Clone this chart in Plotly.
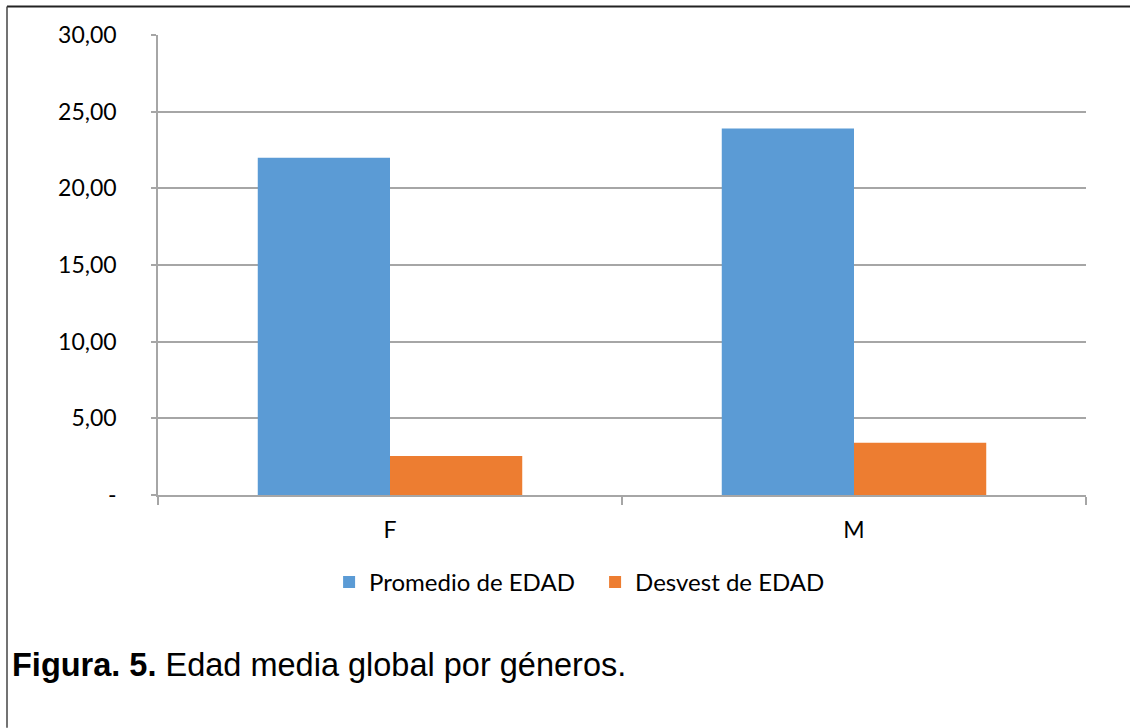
import plotly.graph_objects as go

categories = ["F", "M"]
promedio = [22.0, 23.9]
desvest = [2.55, 3.4]
series_names = ["Promedio de EDAD", "Desvest de EDAD"]
y_tickvals = [0, 5, 10, 15, 20, 25, 30]
y_ticktext = ["-", "5,00", "10,00", "15,00", "20,00", "25,00", "30,00"]
caption_bold = "Figura. 5."
caption_rest = " Edad media global por géneros."

W, H = 1130, 728
L, R, T, B = 158, 44, 34.5, 233

font_main = "Lato, 'Open Sans', sans-serif"
FS = 23

fig = go.Figure()
fig.add_trace(go.Bar(x=categories, y=promedio, name=series_names[0],
                     marker=dict(color="#5b9bd5", line=dict(width=0))))
fig.add_trace(go.Bar(x=categories, y=desvest, name=series_names[1],
                     marker=dict(color="#ed7d31", line=dict(width=0))))

fig.update_layout(
    width=W, height=H,
    margin=dict(l=L, r=R, t=T, b=B, autoexpand=False),
    paper_bgcolor="white", plot_bgcolor="white",
    barmode="group", bargap=0.43, bargroupgap=0,
    font=dict(family=font_main, size=FS, color="#000000"),
    showlegend=True,
    legend=dict(orientation="h", x=0.471, xanchor="center", y=-0.19, yanchor="middle",
                font=dict(size=24, family=font_main), itemwidth=30,
                entrywidth=221, entrywidthmode="pixels",
                tracegroupgap=0, itemsizing="constant"),
    xaxis=dict(type="category", tickson="boundaries", ticks="outside", ticklen=8,
               tickcolor="#a6a6a6", tickwidth=1.5, showgrid=False,
               showline=True, linecolor="#a6a6a6", linewidth=1.5,
               tickfont=dict(size=FS, family=font_main), ticklabelstandoff=14),
    yaxis=dict(range=[0, 30], tickvals=y_tickvals, ticktext=y_ticktext,
               ticks="outside", ticklen=5, tickcolor="#a6a6a6", tickwidth=1.5,
               showgrid=True, gridcolor="#a6a6a6", gridwidth=1.5,
               showline=True, linecolor="#a6a6a6", linewidth=1.5,
               zeroline=False, ticklabelstandoff=30,
               tickfont=dict(size=FS, family=font_main)),
    shapes=[
        dict(type="line", xref="paper", yref="paper",
             x0=(7 - L) / (W - L - R), x1=(W - L) / (W - L - R),
             y0=(H - 6 - B) / (H - T - B), y1=(H - 6 - B) / (H - T - B),
             line=dict(color="#222222", width=2)),
        dict(type="line", xref="paper", yref="paper",
             x0=(7 - L) / (W - L - R), x1=(7 - L) / (W - L - R),
             y0=(H - 6 - B) / (H - T - B), y1=(0 - B) / (H - T - B),
             line=dict(color="#444444", width=1.5)),
    ],
    annotations=[
        dict(xref="paper", yref="paper",
             x=(10 - L) / (W - L - R), y=(H - 665 - B) / (H - T - B),
             xanchor="left", yanchor="middle", showarrow=False,
             text="<b>" + caption_bold + "</b>" + caption_rest,
             font=dict(family="'Liberation Sans', Arial, sans-serif", size=32.5, color="#000000")),
    ],
)

fig.write_html("out.html")
